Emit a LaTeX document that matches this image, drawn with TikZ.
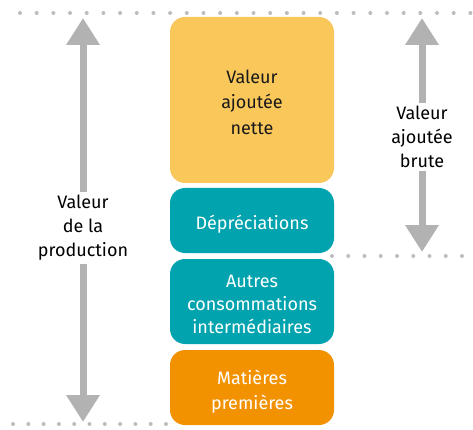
\documentclass[tikz,border=0pt]{standalone}
\usepackage{fontspec}
\setmainfont{Fira Sans}
\usetikzlibrary{arrows.meta}
\definecolor{yel}{HTML}{F9C75A}
\definecolor{teal}{HTML}{00A3AE}
\definecolor{ora}{HTML}{F39200}
\definecolor{gry}{HTML}{B2B2B2}
\definecolor{dotc}{HTML}{BDBDBD}
\begin{document}
\begin{tikzpicture}[x=1pt,y={(0,-1pt)},
  blk/.style={rounded corners=15pt, minimum width=164pt, inner sep=0pt},
  txt/.style={align=center, inner sep=0pt, font=\fontsize{18}{24}\selectfont},
  lbl/.style={align=center, font=\fontsize{18}{24}\selectfont, inner sep=3pt},
  garrow/.style={gry, line width=7pt, -{Triangle[width=32pt,length=27pt]}},
  dots/.style={dotc, line width=4pt, line cap=round, dash pattern=on 0pt off #1}]
\useasboundingbox (0,0) rectangle (473,430);
% dotted lines
\coordinate (t1) at (20,13); \coordinate (t2) at (470.5,13);
\coordinate (m1) at (332,256); \coordinate (m2) at (462.1,256);
\coordinate (b1) at (13,424); \coordinate (b2) at (166.1,424);
\draw[dots=16.68pt] (t1) -- (t2);
\draw[dots=16.25pt] (m1) -- (m2);
\draw[dots=15.3pt] (b1) -- (b2);
% boxes
\node[blk, fill=yel, minimum height=166pt] (van) at (252,100) {};
\node[blk, fill=teal, minimum height=65pt] (dep) at (252,220.5) {};
\node[blk, fill=teal, minimum height=85pt] (aut) at (252,301.5) {};
\node[blk, fill=ora, minimum height=75pt] (mat) at (252,387.5) {};
\node[txt, text=black!90, font=\fontsize{18}{25.5}\selectfont] (vanT) at ([yshift=-2pt]van.center) {Valeur\\ajoutée\\nette};
\node[txt, text=white] (depT) at ([yshift=-3.5pt]dep.center) {Dépréciations};
\node[txt, text=white, font=\fontsize{18}{23}\selectfont] (autT) at ([yshift=-2.5pt]aut.center) {Autres\\consommations\\intermédiaires};
\node[txt, text=white, font=\fontsize{18}{25}\selectfont] (matT) at ([yshift=-4pt]mat.center) {Matières\\premières};
% labels
\node[lbl] (vp) at (83,228) {Valeur\\de la\\production};
\node[lbl] (vab) at (422,137) {Valeur\\ajoutée\\brute};
\coordinate (vpt) at (83,18);
\coordinate (vpb) at (83,422);
\coordinate (vabt) at (422,18);
\coordinate (vabb) at (422,252);
\draw[garrow] (vp.north) -- (vpt);
\draw[garrow] (vp.south) -- (vpb);
\draw[garrow] (vab.north) -- (vabt);
\draw[garrow] (vab.south) -- (vabb);
\end{tikzpicture}
\end{document}
